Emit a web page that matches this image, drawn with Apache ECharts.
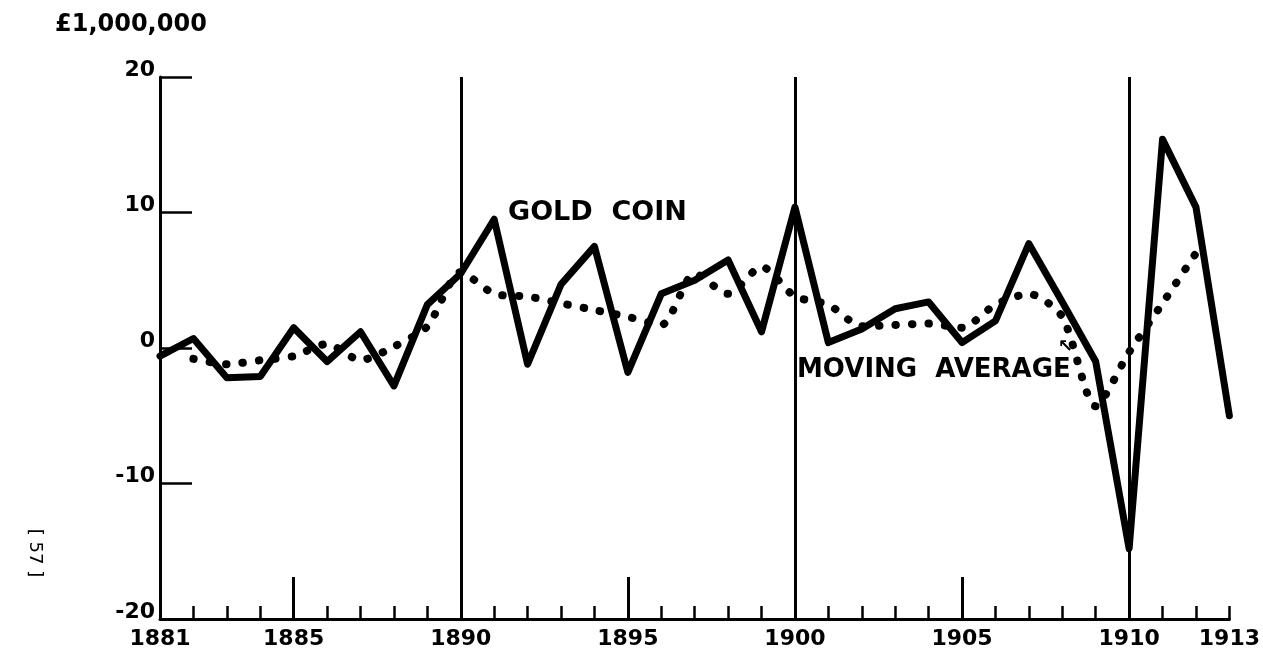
<!DOCTYPE html>
<html>
<head>
<meta charset="utf-8">
<script src="https://cdn.jsdelivr.net/npm/echarts@6/dist/echarts.min.js"></script>
<style>
  html, body { margin: 0; padding: 0; background: #fff; }
  #chart { width: 1263px; height: 664px; }
</style>
</head>
<body>
<div id="chart"></div>
<script>
var years = [1881, 1882, 1883, 1884, 1885, 1886, 1887, 1888, 1889, 1890,
             1891, 1892, 1893, 1894, 1895, 1896, 1897, 1898, 1899, 1900,
             1901, 1902, 1903, 1904, 1905, 1906, 1907, 1908, 1909, 1910,
             1911, 1912, 1913];
// gold coin, £ million
var goldCoin = [-0.6, 0.7, -2.2, -2.1, 1.5, -1.0, 1.2, -2.8, 3.2, 5.5,
                9.5, -1.2, 4.7, 7.5, -1.8, 4.0, 5.0, 6.5, 1.2, 10.4,
                0.4, 1.4, 2.9, 3.4, 0.4, 2.0, 7.7, 3.4, -1.0, -14.8,
                15.4, 10.4, -5.0];
// moving average, 1882 - 1912
var maYears = years.slice(1, 32);
var movingAvg = [-0.8, -1.2, -0.9, -0.6, 0.3, -0.9, 0.1, 1.6, 5.6,
                 4.0, 3.8, 3.3, 2.8, 2.3, 1.7, 5.5, 4.0, 6.0, 3.8,
                 3.2, 1.6, 1.7, 1.8, 1.5, 3.2, 4.0, 2.3, -4.3, -0.3,
                 3.3, 7.0];
var labelYears = [1881, 1885, 1890, 1895, 1900, 1905, 1910, 1913];
var tallTickYears = [1885, 1895, 1905];
var decadeYears = [1890, 1900, 1910];

var chart = echarts.init(document.getElementById('chart'));
var font = 'DejaVu Sans';

function pairs(xs, ys) {
  return xs.map(function (x, i) { return [x, ys[i]]; });
}

var marks = decadeYears.map(function (y) { return { xAxis: y }; });
tallTickYears.forEach(function (y) {
  marks.push([{ coord: [y, -20] }, { coord: [y, -16.9] }]);
});

option = {
  backgroundColor: '#fff',
  animation: false,
  grid: { left: 160, right: 31, top: 77, bottom: 45 },
  xAxis: {
    type: 'value',
    min: 1881,
    max: 1913,
    interval: 1,
    splitLine: { show: false },
    axisLine: { onZero: false, lineStyle: { color: '#000', width: 3 } },
    axisTick: { inside: true, length: 13, lineStyle: { color: '#000', width: 2.5 } },
    axisLabel: {
      margin: 9,
      color: '#000',
      fontFamily: font,
      fontWeight: 'bold',
      fontSize: 22,
      showMinLabel: true,
      showMaxLabel: true,
      formatter: function (v) {
        return labelYears.indexOf(v) >= 0 ? String(v) : '';
      }
    }
  },
  yAxis: {
    type: 'value',
    min: -20,
    max: 20,
    interval: 10,
    splitLine: { show: false },
    axisLine: { show: true, onZero: false, lineStyle: { color: '#000', width: 3 } },
    axisTick: { show: true, inside: true, length: 32, lineStyle: { color: '#000', width: 2.5 } },
    axisLabel: {
      margin: 5,
      color: '#000',
      fontFamily: font,
      fontWeight: 'bold',
      fontSize: 22,
      verticalAlign: 'bottom',
      lineHeight: 14,
      formatter: function (v) { return v < 0 ? '-' + Math.abs(v) : String(v); }
    }
  },
  series: [
    {
      name: 'MOVING AVERAGE',
      type: 'line',
      data: pairs(maYears, movingAvg),
      smooth: 0.25,
      symbol: 'none',
      z: 2,
      lineStyle: { color: '#000', width: 8, type: [0.5, 16], cap: 'round' }
    },
    {
      name: 'GOLD COIN',
      type: 'line',
      data: pairs(years, goldCoin),
      symbol: 'none',
      z: 3,
      lineStyle: { color: '#000', width: 7, join: 'round', cap: 'round' },
      markLine: {
        silent: true,
        symbol: 'none',
        label: { show: false },
        lineStyle: { color: '#000', width: 3, type: 'solid' },
        data: marks
      }
    }
  ],
  graphic: [
    { type: 'text', left: 55, top: 13,
      style: { text: '£1,000,000', fontFamily: font, fontWeight: 'bold', fontSize: 24, fill: '#000' } },
    { type: 'text', left: 508, top: 199,
      style: { text: 'GOLD  COIN', fontFamily: font, fontWeight: 'bold', fontSize: 27, fill: '#000' } },
    { type: 'text', left: 797, top: 357,
      style: { text: 'MOVING  AVERAGE', fontFamily: font, fontWeight: 'bold', fontSize: 26, fill: '#000' } },
    { type: 'text', left: 1058, top: 338,
      style: { text: '↖', fontFamily: font, fontWeight: 'bold', fontSize: 18, fill: '#000' } },
    { type: 'text', x: 35, y: 553, rotation: -Math.PI / 2,
      style: { text: '[ 57 ]', fontFamily: font, fontSize: 18, fill: '#000', align: 'center', verticalAlign: 'middle' } }
  ]
};
chart.setOption(option);
window.addEventListener('resize', function () {
  chart.resize();
});
</script>
</body>
</html>
